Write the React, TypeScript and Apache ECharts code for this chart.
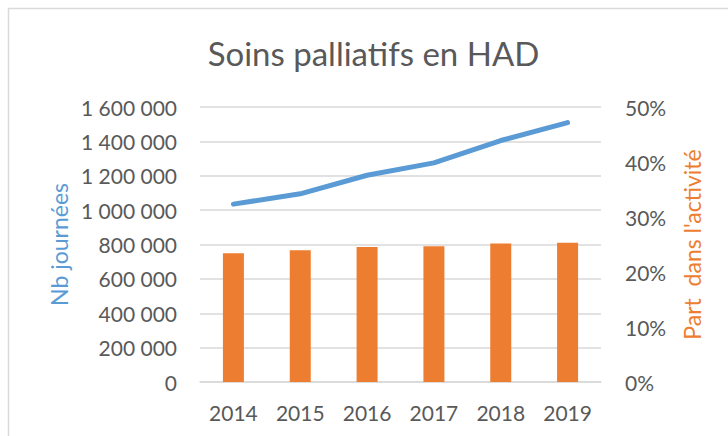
import React, { useEffect, useRef } from "react";
import * as echarts from "echarts";

const years = ["2014", "2015", "2016", "2017", "2018", "2019"];
const nbJournees = [1035000, 1095000, 1203000, 1275000, 1405000, 1509000];
const partActivite = [0.234, 0.2395, 0.2455, 0.2467, 0.252, 0.2532];

const TEXT = "#595959";
const FONT = "Lato";

export default function App() {
  const ref = useRef<HTMLDivElement>(null);
  useEffect(() => {
    const chart = echarts.init(ref.current!, null, { renderer: "svg" });
    const fmtNum = (v: number) =>
      String(Math.round(v)).replace(/\B(?=(\d{3})+(?!\d))/g, " ");
    chart.setOption({
      animation: false,
      backgroundColor: "#ffffff",
      textStyle: { fontFamily: FONT },
      graphic: [
        {
          type: "rect",
          shape: { x: 8.5, y: 8.5, width: 730, height: 440 },
          style: { fill: "none", stroke: "#D9D9D9", lineWidth: 1.5 },
          silent: true,
        },
        {
          type: "text",
          x: 373.5,
          y: 53,
          style: {
            text: "Soins palliatifs en HAD",
            fontFamily: FONT,
            fontSize: 33,
            fill: TEXT,
            align: "center",
            verticalAlign: "middle",
          },
        },
      ],
      grid: { left: 200, right: 127, top: 107, bottom: 54 },
      xAxis: {
        type: "category",
        data: years,
        axisLine: { show: true, lineStyle: { color: "#D9D9D9", width: 1.5 } },
        axisTick: { show: false },
        axisLabel: { color: TEXT, fontSize: 21, fontFamily: FONT, margin: 20 },
      },
      yAxis: [
        {
          type: "value",
          min: 0,
          max: 1600000,
          interval: 200000,
          name: "Nb journées",
          nameLocation: "middle",
          nameGap: 130,
          nameRotate: 90,
          nameTextStyle: { color: "#5B9BD5", fontSize: 23, fontFamily: FONT },
          axisLine: { show: false },
          axisTick: { show: false },
          splitLine: { lineStyle: { color: "#D9D9D9", width: 1.5 } },
          axisLabel: {
            color: TEXT,
            fontSize: 21,
            fontFamily: FONT,
            margin: 23,
            formatter: (v: number) => fmtNum(v),
          },
        },
        {
          type: "value",
          min: 0,
          max: 0.5,
          interval: 0.1,
          name: "Part  dans l'activité",
          nameLocation: "middle",
          nameGap: 79,
          nameRotate: 90,
          nameTextStyle: { color: "#ED7D31", fontSize: 23, fontFamily: FONT },
          axisLine: { show: false },
          axisTick: { show: false },
          splitLine: { show: false },
          axisLabel: {
            color: TEXT,
            fontSize: 21,
            fontFamily: FONT,
            margin: 24,
            formatter: (v: number) => Math.round(v * 100) + "%",
          },
        },
      ],
      series: [
        {
          type: "bar",
          yAxisIndex: 1,
          data: partActivite,
          barWidth: 21,
          itemStyle: { color: "#ED7D31" },
          z: 2,
        },
        {
          type: "line",
          yAxisIndex: 0,
          data: nbJournees,
          symbol: "none",
          lineStyle: { color: "#5B9BD5", width: 5, cap: "round", join: "round" },
          z: 3,
        },
      ],
    });
    return () => chart.dispose();
  }, []);
  return (
    <div
      ref={ref}
      style={{ position: "fixed", left: 0, top: 0, width: 728, height: 436 }}
    />
  );
}
